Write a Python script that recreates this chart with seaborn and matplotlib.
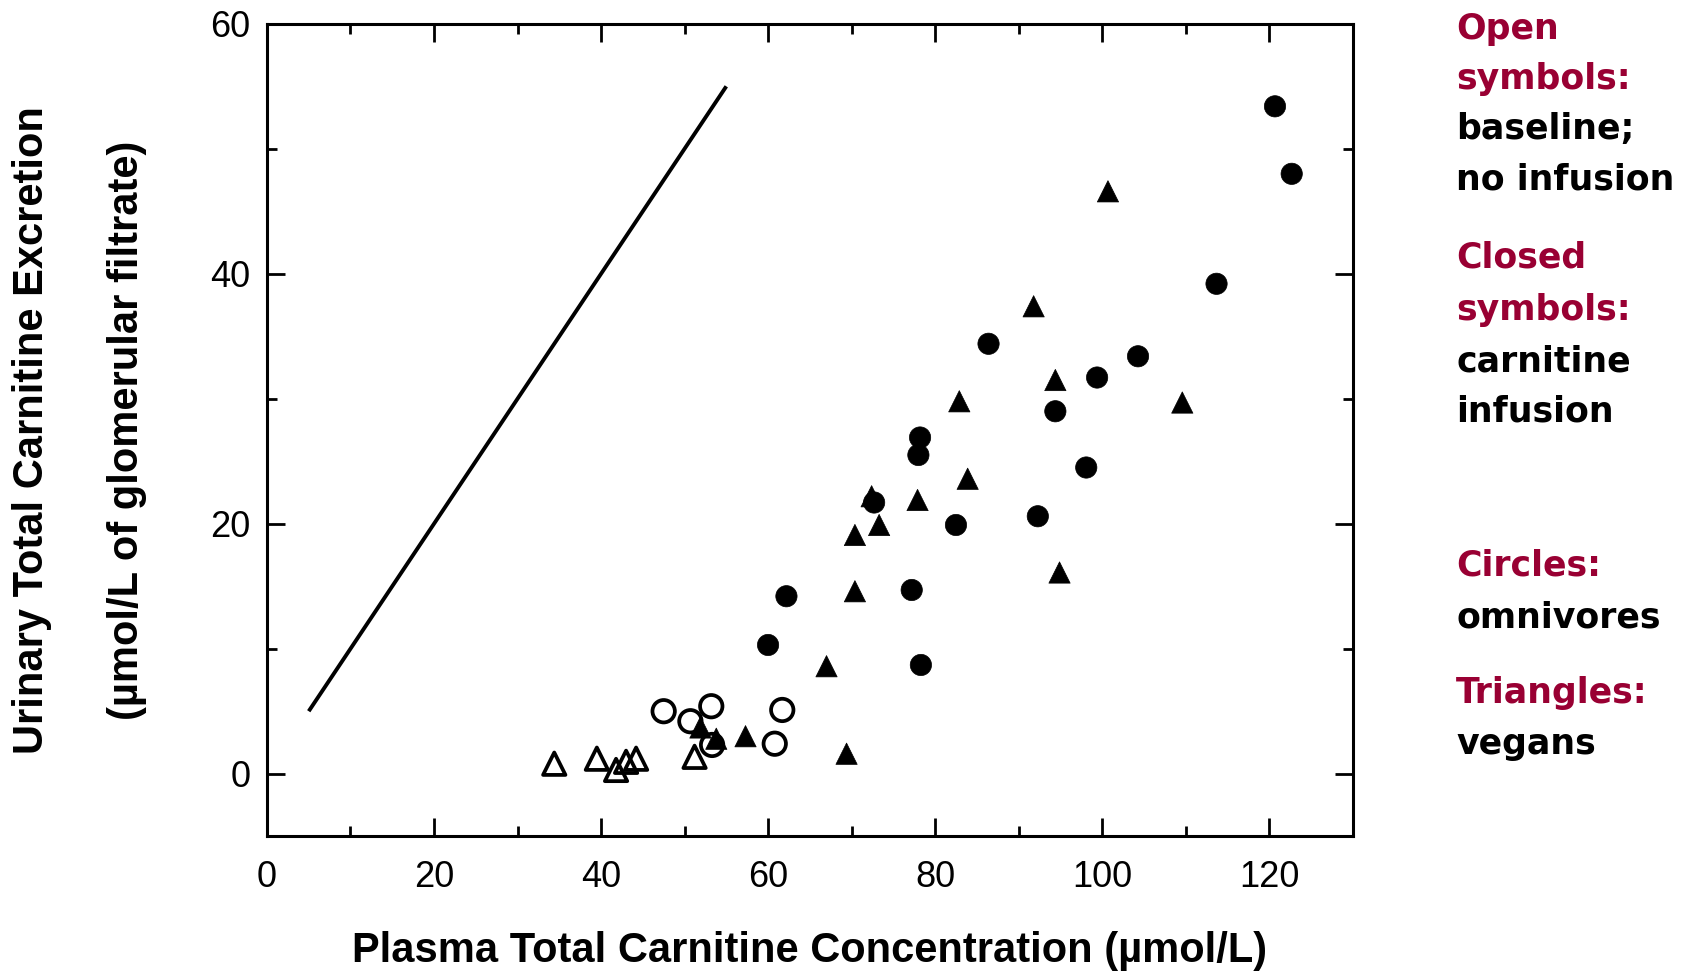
import matplotlib
matplotlib.use("Agg")
import matplotlib.pyplot as plt
import pandas as pd
import seaborn as sns
from matplotlib.ticker import MultipleLocator

# values
omni_base_x = [47.5, 50.7, 53.2, 53.3, 61.7, 60.8]
omni_base_y = [5.0, 4.2, 5.4, 2.3, 5.1, 2.4]

vegan_base_x = [34.4, 39.5, 41.8, 43.0, 44.2, 51.2]
vegan_base_y = [0.8, 1.2, 0.3, 0.95, 1.2, 1.35]

omni_inf_x = [86.4, 99.4, 94.4, 78.2, 78.0, 98.1, 72.7, 92.3, 82.5,
              62.2, 77.2, 60.0, 78.3, 120.7, 122.7, 113.7, 104.3]
omni_inf_y = [34.4, 31.7, 29.0, 26.9, 25.5, 24.5, 21.7, 20.6, 19.9,
              14.2, 14.7, 10.3, 8.7, 53.4, 48.0, 39.2, 33.4]

vegan_inf_x = [100.7, 91.8, 94.4, 82.9, 109.6, 83.9, 72.4, 77.9, 73.3,
               70.4, 94.9, 70.4, 67.0, 51.9, 53.8, 57.3, 69.4]
vegan_inf_y = [46.6, 37.4, 31.5, 29.8, 29.7, 23.6, 22.2, 21.9, 19.9,
               19.1, 16.1, 14.6, 8.6, 3.7, 2.8, 3.0, 1.6]

identity_x = [5, 55]
identity_y = [5, 55]

x_label = "Plasma Total Carnitine Concentration (µmol/L)"
y_label_1 = "Urinary Total Carnitine Excretion"
y_label_2 = "(µmol/L of glomerular filtrate)"

notes = [
    ("Open", "#990033"), ("symbols:", "#990033"),
    ("baseline;", "black"), ("no infusion", "black"),
    ("Closed", "#990033"), ("symbols:", "#990033"),
    ("carnitine", "black"), ("infusion", "black"),
    ("Circles:", "#990033"), ("omnivores", "black"),
    ("Triangles:", "#990033"), ("vegans", "black"),
]
# baselines of the note lines, in pixels from the top
note_baselines = [39, 89, 139, 190, 268, 320, 371, 421, 575, 627, 703, 754]


def make_frame(xs, ys, diet):
    return pd.DataFrame({"x": xs, "y": ys, "diet": diet})


baseline_df = pd.concat([make_frame(omni_base_x, omni_base_y, "omnivore"),
                         make_frame(vegan_base_x, vegan_base_y, "vegan")])
infusion_df = pd.concat([make_frame(omni_inf_x, omni_inf_y, "omnivore"),
                         make_frame(vegan_inf_x, vegan_inf_y, "vegan")])

sns.set_style("ticks")
plt.rcParams["font.family"] = ["Liberation Sans", "DejaVu Sans"]
plt.rcParams["text.color"] = "black"

W, H = 1694, 973
fig = plt.figure(figsize=(W / 100, H / 100), dpi=100)
ax = fig.add_axes([0.1576, 0.1406, 0.6409, 0.8349])

markers = {"omnivore": "o", "vegan": "^"}

ax.plot(identity_x, identity_y, color="black", linewidth=2.8, solid_capstyle="butt")

sns.scatterplot(data=baseline_df, x="x", y="y", style="diet", markers=markers,
                s=260, facecolors="none", edgecolor="black", linewidth=2.7,
                legend=False, ax=ax, zorder=3)
sns.scatterplot(data=infusion_df, x="x", y="y", style="diet", markers=markers,
                s=235, color="black", edgecolor="black", linewidth=0.5,
                legend=False, ax=ax, zorder=3)

ax.set_xlim(0, 130)
ax.set_ylim(-5, 60)
ax.xaxis.set_major_locator(MultipleLocator(20))
ax.xaxis.set_minor_locator(MultipleLocator(10))
ax.yaxis.set_major_locator(MultipleLocator(20))
ax.yaxis.set_minor_locator(MultipleLocator(10))
ax.tick_params(which="both", direction="in", top=True, right=True,
               width=2, colors="black", labelsize=26)
ax.tick_params(which="major", length=13)
ax.tick_params(which="minor", length=7)
ax.tick_params(axis="x", which="major", pad=17)
ax.tick_params(axis="y", which="major", pad=12)
for sp in ax.spines.values():
    sp.set_linewidth(2.2)
    sp.set_color("black")
ax.set_xlabel("")
ax.set_ylabel("")

fig.text(0.478, 0.0226, x_label, ha="center", va="center",
         fontsize=30, fontweight="bold")
fig.text(32 / W, 0.558, y_label_1, rotation=90, ha="center", va="center",
         fontsize=30, fontweight="bold")
fig.text(127 / W, 0.558, y_label_2, rotation=90, ha="center", va="center",
         fontsize=30, fontweight="bold")

for (txt, col), base in zip(notes, note_baselines):
    fig.text(1456 / W, 1 - base / H, txt, ha="left", va="baseline",
             color=col, fontsize=25, fontweight="bold",
             family=["DejaVu Sans"])

fig.savefig("out.png", dpi=100)
